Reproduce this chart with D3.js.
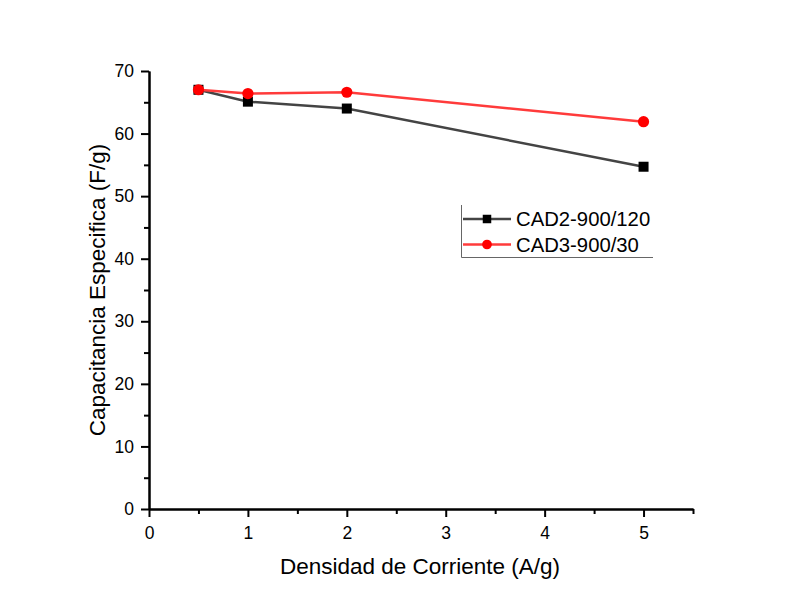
<!DOCTYPE html>
<html>
<head>
<meta charset="utf-8">
<script src="https://cdn.jsdelivr.net/npm/d3@7"></script>
<style>
  html, body { margin: 0; padding: 0; background: #fff; }
  svg { display: block; font-family: Arial, "Liberation Sans", sans-serif; }
</style>
</head>
<body>
<svg id="chart" width="786" height="605"></svg>
<script>
// Current density (A/g) and specific capacitance (F/g) for each sample
const densities = [0.5, 1, 2, 5];
const cad2 = [67.0, 65.1, 64.0, 54.7];
const cad3 = [67.0, 66.4, 66.6, 61.9];
const seriesNames = ["CAD2-900/120", "CAD3-900/30"];
const xTicks = [0, 1, 2, 3, 4, 5];
const xMinorTicks = [0.5, 1.5, 2.5, 3.5, 4.5, 5.5];
const yTicks = [0, 10, 20, 30, 40, 50, 60, 70];
const yMinorTicks = [5, 15, 25, 35, 45, 55, 65];

const svg = d3.select("#chart");
const m = { left: 149, top: 71, right: 693, bottom: 509 };

const x = d3.scaleLinear().domain([0, 5.5]).range([m.left, m.right]);
const y = d3.scaleLinear().domain([0, 70]).range([m.bottom, m.top]);

// Axes with outward major and minor ticks
const xAxis = d3.axisBottom(x).tickValues(xTicks).tickSize(8).tickSizeOuter(0).tickPadding(10).tickFormat(d3.format("d"));
const xMinor = d3.axisBottom(x).tickValues(xMinorTicks).tickSize(5).tickSizeOuter(0).tickFormat("");
const yAxis = d3.axisLeft(y).tickValues(yTicks).tickSize(8).tickSizeOuter(0).tickPadding(7).tickFormat(d3.format("d"));
const yMinor = d3.axisLeft(y).tickValues(yMinorTicks).tickSize(5).tickSizeOuter(0).tickFormat("");

function style(g) {
  g.select(".domain").attr("stroke", "#000").attr("stroke-width", 2);
  g.selectAll(".tick line").attr("stroke", "#000").attr("stroke-width", 2);
  g.selectAll(".tick text").attr("fill", "#000").style("font-size", "17.5px")
    .style("font-family", "Arial, 'Liberation Sans', sans-serif");
}

svg.append("g").attr("transform", `translate(0,${m.bottom})`).call(xMinor).call(style);
svg.append("g").attr("transform", `translate(0,${m.bottom})`).call(xAxis).call(style);
svg.append("g").attr("transform", `translate(${m.left},0)`).call(yMinor).call(style);
svg.append("g").attr("transform", `translate(${m.left},0)`).call(yAxis).call(style);

// Axis titles
svg.append("text")
  .attr("x", 420).attr("y", 574)
  .attr("text-anchor", "middle")
  .style("font-size", "22.5px")
  .text("Densidad de Corriente (A/g)");

svg.append("text")
  .attr("transform", `translate(105,290) rotate(-90)`)
  .attr("text-anchor", "middle")
  .style("font-size", "22.5px")
  .text("Capacitancia Especifica (F/g)");

const series = [
  { name: seriesNames[0], values: cad2, line: "#444444", marker: "#000", shape: "square" },
  { name: seriesNames[1], values: cad3, line: "#ff3b3b", marker: "#ff0000", shape: "circle" }
];

const line = d3.line().x((d, i) => x(densities[i])).y(d => y(d));

function drawMarker(g, s, cx, cy, size) {
  if (s.shape === "square") {
    g.append("rect").attr("x", cx - size / 2).attr("y", cy - size / 2)
      .attr("width", size).attr("height", size).attr("fill", s.marker);
  } else {
    g.append("circle").attr("cx", cx).attr("cy", cy).attr("r", size / 2 + 0.6).attr("fill", s.marker);
  }
}

series.forEach(s => {
  const g = svg.append("g");
  g.append("path").datum(s.values).attr("d", line)
    .attr("fill", "none").attr("stroke", s.line).attr("stroke-width", 2.5);
  s.values.forEach((v, i) => drawMarker(g, s, x(densities[i]), y(v), 10));
});

// Legend
const lg = svg.append("g");
lg.append("path").attr("d", "M461.5,205 V257.5 H653")
  .attr("fill", "none").attr("stroke", "#666").attr("stroke-width", 1);
series.forEach((s, i) => {
  const cy = 219 + i * 25.5;
  lg.append("line").attr("x1", 463).attr("x2", 511).attr("y1", cy).attr("y2", cy)
    .attr("stroke", s.line).attr("stroke-width", 2.5);
  drawMarker(lg, s, 487, cy, 8.5);
  lg.append("text").attr("x", 516).attr("y", cy + 7)
    .style("font-size", "20.3px").text(s.name);
});
</script>
</body>
</html>
